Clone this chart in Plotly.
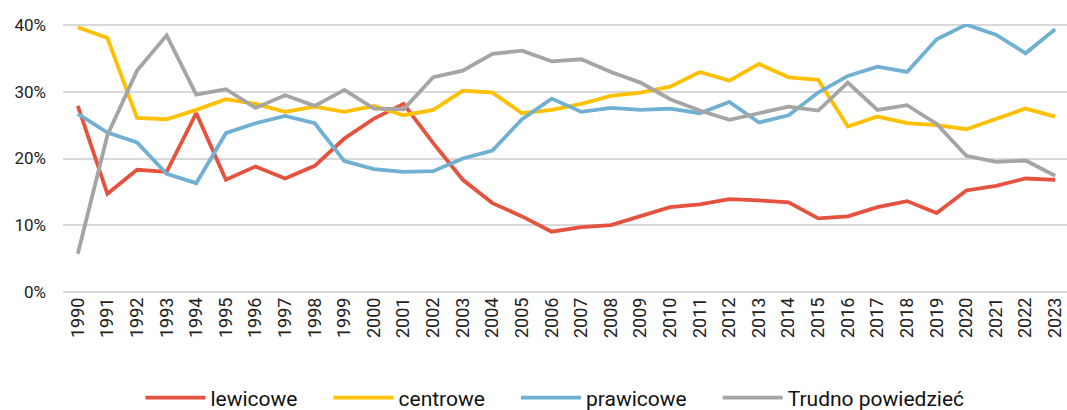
import plotly.graph_objects as go

years = list(range(1990, 2024))

lewicowe = [27.9, 14.7, 18.3, 18.0, 26.8, 16.8, 18.8, 17.0, 18.9, 23.0,
            26.0, 28.2, 22.3, 16.8, 13.3, 11.3, 9.0, 9.7, 10.0, 11.3,
            12.7, 13.1, 13.9, 13.7, 13.4, 11.0, 11.3, 12.7, 13.6, 11.8,
            15.2, 15.9, 17.0, 16.8]
centrowe = [39.7, 38.1, 26.1, 25.9, 27.3, 28.9, 28.2, 27.0, 27.8, 27.0,
            27.9, 26.5, 27.3, 30.2, 29.9, 26.8, 27.3, 28.2, 29.4, 29.9,
            30.8, 33.0, 31.7, 34.2, 32.2, 31.8, 24.8, 26.3, 25.3, 25.0,
            24.4, 25.9, 27.5, 26.3]
prawicowe = [26.7, 23.9, 22.4, 17.7, 16.3, 23.8, 25.3, 26.4, 25.3, 19.6,
             18.4, 18.0, 18.1, 20.0, 21.2, 25.9, 29.0, 27.0, 27.6, 27.3,
             27.5, 26.8, 28.5, 25.4, 26.5, 29.9, 32.4, 33.8, 33.0, 37.9,
             40.1, 38.6, 35.8, 39.4]
trudno = [5.7, 23.5, 33.2, 38.5, 29.6, 30.4, 27.6, 29.5, 27.9, 30.3,
          27.5, 27.4, 32.2, 33.2, 35.7, 36.2, 34.6, 34.9, 33.0, 31.4,
          28.9, 27.2, 25.8, 26.8, 27.8, 27.2, 31.4, 27.3, 28.0, 25.2,
          20.4, 19.5, 19.7, 17.4]

series = [
    ("lewicowe", lewicowe, "#E5533F"),
    ("centrowe", centrowe, "#FFC000"),
    ("prawicowe", prawicowe, "#6FB0D3"),
    ("Trudno powiedzieć", trudno, "#A5A5A5"),
]

# extra space after the label text, to widen the gaps between legend items
pad = "\u00a0" * 5

fig = go.Figure()
for i, (name, vals, color) in enumerate(series):
    label = name + pad if i < len(series) - 1 else name
    fig.add_trace(go.Scatter(
        x=years,
        y=[v / 100 for v in vals],
        mode="lines",
        name=label,
        line=dict(color=color, width=3.8),
    ))

fig.update_layout(
    width=1067,
    height=410,
    margin=dict(l=63, r=0, t=24, b=117, autoexpand=False),
    paper_bgcolor="white",
    plot_bgcolor="white",
    font=dict(family="Roboto", color="#222222"),
    legend=dict(
        orientation="h",
        x=0.49,
        xanchor="center",
        y=-0.39,
        yanchor="middle",
        font=dict(size=21, color="#111111"),
        itemwidth=60,
        tracegroupgap=0,
    ),
)

fig.update_xaxes(
    range=[1989.5, 2023.4],
    tickmode="array",
    tickvals=years,
    ticktext=[str(y) for y in years],
    tickangle=-90,
    tickfont=dict(size=18, color="#222222"),
    ticklabeloverflow="allow",
    showgrid=False,
    zeroline=False,
    showline=False,
    ticks="",
    automargin=False,
)

fig.update_yaxes(
    range=[-0.002, 0.402],
    tickvals=[0, 0.1, 0.2, 0.3, 0.4],
    tickformat=".0%",
    tickfont=dict(size=17, color="#222222"),
    showgrid=True,
    gridcolor="#D9D9D9",
    gridwidth=2,
    zeroline=False,
    showline=False,
    ticklabelstandoff=16,
    automargin=False,
)

fig.write_html(
    "out.html",
    config={"displayModeBar": False},
    post_script="document.body.style.margin='0';",
)
